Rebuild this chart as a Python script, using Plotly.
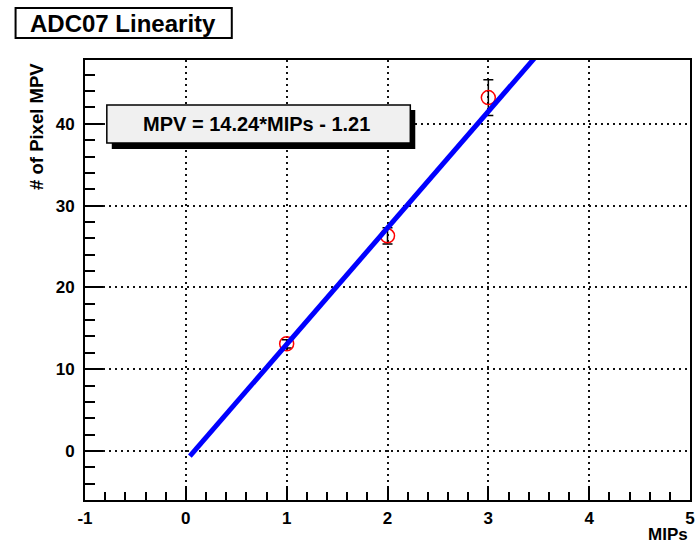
import plotly.graph_objects as go

# ---- data ----
mips = [1, 2, 3]
mpv = [13.1, 26.3, 43.2]
mpv_err = [0.5, 1.0, 2.2]
fit_x = [0.04, 3.5]
fit_y = [-0.64, 48.63]
fit_label = "MPV = 14.24*MIPs - 1.21"
title_text = "ADC07 Linearity"
x_title = "MIPs"
y_title = "# of Pixel MPV"
x_tickvals = [-1, 0, 1, 2, 3, 4, 5]
x_ticktext = ["-1", "0", "1", "2", "3", "4", "5"]
y_tickvals = [0, 10, 20, 30, 40]
y_ticktext = ["0", "10", "20", "30", "40"]

W, H = 700, 544
L, R, T, B = 85, 5, 60, 44
pw, ph = W - L - R, H - T - B

def px(xp):
    return (xp - L) / pw

def py(yp):
    return (H - B - yp) / ph

FONT = "Liberation Sans"

fig = go.Figure()
fig.add_trace(go.Scatter(
    x=mips, y=mpv, mode="markers",
    marker=dict(symbol="circle-open", size=14, color="red", line=dict(width=1.5, color="red")),
    error_y=dict(type="data", array=mpv_err, color="black", thickness=1.5, width=5),
    showlegend=False,
))
fig.add_trace(go.Scatter(
    x=fit_x, y=fit_y, mode="lines",
    line=dict(color="#0000ff", width=5), showlegend=False,
))

axis_common = dict(
    showline=True, linecolor="black", linewidth=2, mirror=True,
    ticks="inside", tickwidth=1.5, tickcolor="black",
    showgrid=True, gridcolor="#111111", griddash="2px,4px", gridwidth=1.6,
    zeroline=False,
    tickfont=dict(family=FONT, size=17, color="black", weight="bold"),
)

fig.update_xaxes(range=[-1, 5], tickvals=x_tickvals, ticktext=x_ticktext, ticklen=14,
                 minor=dict(dtick=0.2, tick0=0, ticks="inside", ticklen=8, tickcolor="black", tickwidth=1.5, showgrid=False),
                 ticklabelstandoff=2, **axis_common)
fig.update_yaxes(range=[-6, 47.8], tickvals=y_tickvals, ticktext=y_ticktext, ticklen=18,
                 minor=dict(dtick=2, tick0=0, ticks="inside", ticklen=10, tickcolor="black", tickwidth=1.5, showgrid=False),
                 ticklabelstandoff=5, **axis_common)

shapes = [
    # title box
    dict(type="rect", xref="paper", yref="paper", x0=px(15), x1=px(233), y0=py(38), y1=py(8),
         fillcolor="white", line=dict(color="black", width=2), layer="above"),
    # fit box shadow
    dict(type="rect", xref="paper", yref="paper", x0=px(112), x1=px(418), y0=py(149), y1=py(110),
         fillcolor="black", line=dict(width=0), layer="above"),
    # fit box
    dict(type="rect", xref="paper", yref="paper", x0=px(107), x1=px(413), y0=py(143), y1=py(105),
         fillcolor="#f0f0f0", line=dict(color="black", width=1.5), layer="above"),
]

annotations = [
    dict(text=title_text, xref="paper", yref="paper", x=px(123), y=py(23), showarrow=False,
         xanchor="center", yanchor="middle",
         font=dict(family=FONT, size=24, color="black", weight="bold")),
    dict(text=fit_label, xref="paper", yref="paper", x=px(258), y=py(124), showarrow=False,
         xanchor="center", yanchor="middle",
         font=dict(family=FONT, size=20, color="black", weight="bold")),
    dict(text=x_title, xref="paper", yref="paper", x=px(695), y=py(534), showarrow=False,
         xanchor="right", yanchor="middle",
         font=dict(family=FONT, size=17, color="black", weight="bold")),
    dict(text=y_title, xref="paper", yref="paper", x=px(36), y=py(61), showarrow=False,
         xanchor="center", yanchor="top", textangle=-90,
         font=dict(family=FONT, size=18.5, color="black", weight="bold")),
]

fig.update_layout(
    width=W, height=H,
    margin=dict(l=L, r=R, t=T, b=B),
    paper_bgcolor="white", plot_bgcolor="white",
    shapes=shapes, annotations=annotations,
)

fig.write_html("out.html")
